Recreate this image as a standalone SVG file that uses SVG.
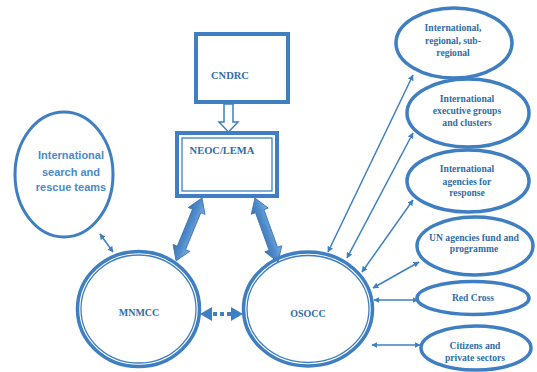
<svg xmlns="http://www.w3.org/2000/svg" width="537" height="372" viewBox="0 0 537 372">
<style>
  .ln{fill:none;stroke:#3f7fc1;}
  .thin{fill:none;stroke:#3f7fc1;stroke-width:1.5;marker-start:url(#ah);marker-end:url(#ah);}
  .lbl{font-family:"Liberation Serif","DejaVu Serif",serif;font-weight:bold;fill:#2f6ea8;text-anchor:middle;}
  .sm{font-size:9.6px;}
  .md{font-size:10.5px;}
  .sans{font-family:"Liberation Sans",Arial,sans-serif;font-weight:bold;fill:#4a8acb;text-anchor:middle;font-size:11px;}
</style>
<defs>
  <marker id="ah" viewBox="0 0 10 10" refX="9" refY="5" markerWidth="6" markerHeight="6" orient="auto-start-reverse" markerUnits="userSpaceOnUse">
    <path d="M0,0 L10,5 L0,10 z" fill="#3f7fc1"/>
  </marker>
  <linearGradient id="bg" x1="0" y1="0" x2="0" y2="1">
    <stop offset="0" stop-color="#7fb0e0"/>
    <stop offset="0.5" stop-color="#4f8ccc"/>
    <stop offset="1" stop-color="#3a72ae"/>
  </linearGradient>
  <path id="blk" d="M0,0 L14,-9 L14,-4.5 L54,-4.5 L54,-9 L68,0 L54,9 L54,4.5 L14,4.5 L14,9 z"/>
</defs>
<rect width="537" height="372" fill="#ffffff"/>

<g id="connectors">
  <!-- CNDRC to NEOC hollow arrow -->
  <polygon points="224,104 233,104 233,122 238,122 228.5,132 219,122 224,122" fill="#ffffff" stroke="#3f7fc1" stroke-width="1.5"/>
  <!-- block double arrows -->
  <use href="#blk" transform="translate(202,198) rotate(112.4)" fill="url(#bg)" stroke="#3a72ae" stroke-width="0.8"/>
  <use href="#blk" transform="translate(255,198) rotate(70.2)" fill="url(#bg)" stroke="#3a72ae" stroke-width="0.8"/>
  <!-- dotted MNMCC <-> OSOCC -->
  <line x1="213" y1="314" x2="231" y2="314" stroke="#3f7fc1" stroke-width="4" stroke-dasharray="4 3"/>
  <polygon points="200,314 212,307 212,321" fill="#3f7fc1"/>
  <polygon points="243,314 231,307 231,321" fill="#3f7fc1"/>
  <!-- search teams <-> MNMCC -->
  <line class="thin" x1="100" y1="234" x2="113" y2="252"/>
  <!-- OSOCC to right nodes -->
  <line class="thin" x1="413" y1="75" x2="328" y2="252"/>
  <line class="thin" x1="413" y1="133" x2="347" y2="258"/>
  <line class="thin" x1="413" y1="200" x2="362" y2="272"/>
  <line class="thin" x1="419" y1="262" x2="373" y2="288"/>
  <line class="thin" x1="374" y1="300" x2="418" y2="300"/>
  <line class="thin" x1="372" y1="345" x2="420" y2="345"/>
</g>

<g id="cndrc">
  <rect x="196" y="34" width="92" height="68" fill="#ffffff" stroke="#3f7fc1" stroke-width="4"/>
  <text class="lbl md" x="230" y="79">CNDRC</text>
</g>

<g id="neoc">
  <rect x="177" y="133" width="100" height="63" fill="#ffffff" stroke="#3f7fc1" stroke-width="4"/>
  <rect x="182" y="138" width="90" height="53" fill="none" stroke="#3f7fc1" stroke-width="1.3"/>
  <text class="lbl md" x="222" y="154">NEOC/LEMA</text>
</g>

<g id="search">
  <ellipse cx="64" cy="174.5" rx="49" ry="62.5" class="ln" stroke-width="3"/>
  <text class="sans" x="71" y="159">International</text>
  <text class="sans" x="71" y="176">search and</text>
  <text class="sans" x="71" y="191">rescue teams</text>
</g>

<g id="mnmcc">
  <ellipse cx="138.5" cy="309" rx="61" ry="57.5" class="ln" stroke-width="3.5"/>
  <ellipse cx="138.5" cy="309" rx="57.5" ry="54" class="ln" stroke-width="1.3"/>
  <text class="lbl" font-size="10" x="139" y="315.5">MNMCC</text>
</g>

<g id="osocc">
  <ellipse cx="308" cy="309" rx="64.5" ry="57" class="ln" stroke-width="3.5"/>
  <ellipse cx="308" cy="309" rx="61" ry="53.5" class="ln" stroke-width="1.3"/>
  <text class="lbl" font-size="10" x="308" y="316.5">OSOCC</text>
</g>

<g id="intl-regional">
  <ellipse cx="454" cy="43" rx="58" ry="35" class="ln" stroke-width="3.5"/>
  <text class="lbl sm" x="453" y="31">International,</text>
  <text class="lbl sm" x="453" y="43.5">regional, sub-</text>
  <text class="lbl sm" x="453" y="55.5">regional</text>
</g>

<g id="intl-exec">
  <ellipse cx="468" cy="113" rx="61" ry="34" class="ln" stroke-width="3.5"/>
  <text class="lbl sm" x="467" y="102">International</text>
  <text class="lbl sm" x="467" y="114">executive groups</text>
  <text class="lbl sm" x="467" y="126">and clusters</text>
</g>

<g id="intl-agencies">
  <ellipse cx="468" cy="181" rx="61" ry="31" class="ln" stroke-width="3.5"/>
  <text class="lbl sm" x="467" y="172">International</text>
  <text class="lbl sm" x="467" y="184.5">agencies for</text>
  <text class="lbl sm" x="467" y="196">response</text>
</g>

<g id="un-agencies">
  <ellipse cx="475" cy="246" rx="58" ry="29" class="ln" stroke-width="3.5"/>
  <text class="lbl sm" x="474" y="240.5">UN agencies fund and</text>
  <text class="lbl sm" x="474" y="252">programme</text>
</g>

<g id="red-cross">
  <ellipse cx="473" cy="298" rx="56" ry="16.5" class="ln" stroke-width="3.5"/>
  <text class="lbl sm" x="473" y="301">Red Cross</text>
</g>

<g id="citizens">
  <ellipse cx="476" cy="348" rx="55" ry="22" class="ln" stroke-width="3.5"/>
  <text class="lbl sm" x="475" y="348.5">Citizens and</text>
  <text class="lbl sm" x="475" y="360.5">private sectors</text>
</g>
</svg>
